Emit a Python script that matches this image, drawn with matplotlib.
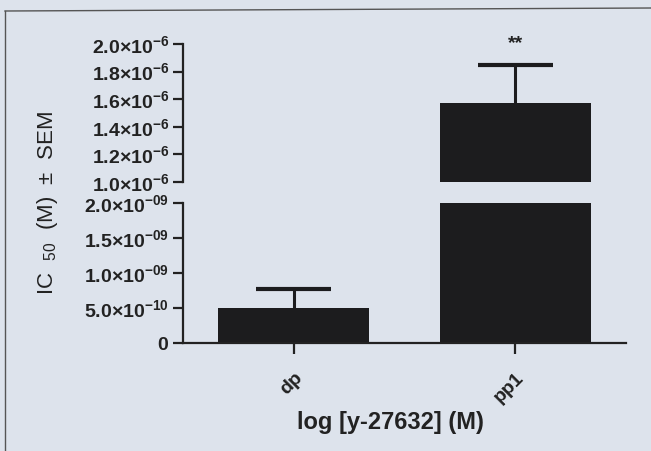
import matplotlib
matplotlib.use('Agg')
import matplotlib.pyplot as plt

# Данные
categories = ['dp', 'pp1']
means = [5.0e-10, 1.57e-6]
sem = [2.7e-10, 2.8e-7]

upper_ticks = [1.0e-6, 1.2e-6, 1.4e-6, 1.6e-6, 1.8e-6, 2.0e-6]
upper_labels = [r'$\mathbf{1.0{\times}10^{-6}}$', r'$\mathbf{1.2{\times}10^{-6}}$',
                r'$\mathbf{1.4{\times}10^{-6}}$', r'$\mathbf{1.6{\times}10^{-6}}$',
                r'$\mathbf{1.8{\times}10^{-6}}$', r'$\mathbf{2.0{\times}10^{-6}}$']
lower_ticks = [0, 5.0e-10, 1.0e-9, 1.5e-9, 2.0e-9]
lower_labels = [r'$\mathbf{0}$', r'$\mathbf{5.0{\times}10^{-10}}$', r'$\mathbf{1.0{\times}10^{-09}}$',
                r'$\mathbf{1.5{\times}10^{-09}}$', r'$\mathbf{2.0{\times}10^{-09}}$']

bg = '#dde3ec'
bar_col = '#1c1c1e'
ink = '#222222'

plt.rcParams['font.family'] = ['Liberation Sans', 'DejaVu Sans']
plt.rcParams['mathtext.fontset'] = 'custom'
plt.rcParams['mathtext.rm'] = 'Liberation Sans'
plt.rcParams['mathtext.bf'] = 'Liberation Sans:bold'
plt.rcParams['mathtext.it'] = 'Liberation Sans:italic'

fig = plt.figure(figsize=(6.51, 4.51), dpi=100, facecolor=bg)
left, width = 183 / 651, 443 / 651
ax_lo = fig.add_axes([left, 1 - 343 / 451, width, 140 / 451])
ax_hi = fig.add_axes([left, 1 - 182 / 451, width, 138 / 451])

x = list(range(len(categories)))
tops = [m + s for m, s in zip(means, sem)]
for ax in (ax_hi, ax_lo):
    ax.set_facecolor('none')
    ax.bar(x, means, width=0.68, color=bar_col, zorder=2)
    # только верхняя половина планки
    ax.vlines(x, means, tops, color=bar_col, lw=2.2, zorder=1)
    ax.hlines(tops, [i - 0.17 for i in x], [i + 0.17 for i in x], color=bar_col, lw=3, zorder=1)
    ax.set_xlim(-0.5, 1.5)
    for s in ('top', 'right'):
        ax.spines[s].set_visible(False)
    ax.spines['left'].set_linewidth(1.6)
    ax.spines['left'].set_color(ink)
    ax.tick_params(axis='y', length=7, width=1.6, colors=ink, pad=3, labelsize=14)

ax_hi.set_ylim(1.0e-6, 2.0e-6)
ax_hi.set_yticks(upper_ticks)
ax_hi.set_yticklabels(upper_labels)
ax_hi.spines['bottom'].set_visible(False)
ax_hi.set_xticks([])

ax_lo.set_ylim(0, 2.0e-9)
ax_lo.set_yticks(lower_ticks)
ax_lo.set_yticklabels(lower_labels)
ax_lo.spines['bottom'].set_linewidth(1.6)
ax_lo.spines['bottom'].set_color(ink)
ax_lo.set_xticks(x)
ax_lo.set_xticklabels(categories, rotation=45, ha='right', va='top',
                      rotation_mode='anchor', fontsize=14, fontweight='bold')
ax_lo.tick_params(axis='x', length=8, width=1.6, colors=ink, pad=11)

# значимость
ax_hi.text(1, means[1] + sem[1] + 0.15e-6, '**', ha='center', va='center',
           fontsize=14, fontweight='bold', color=ink, clip_on=False)

fig.text(48 / 651, 1 - 203 / 451, r'IC  $_{50}$  (M)  ±  SEM', rotation=90,
         ha='center', va='center', fontsize=16, color=ink)
fig.text(390 / 651, 1 - 423 / 451, 'log [y-27632] (M)', ha='center', va='center',
         fontsize=17, fontweight='bold', color=ink)

# рамка страницы
fig.add_artist(plt.Line2D([5 / 651, 5 / 651], [0, 1 - 11 / 451], color='#555555', lw=1))
fig.add_artist(plt.Line2D([5 / 651, 1], [1 - 11 / 451, 1 - 8 / 451], color='#555555', lw=1))

fig.savefig('out.png', dpi=100, facecolor=bg)
